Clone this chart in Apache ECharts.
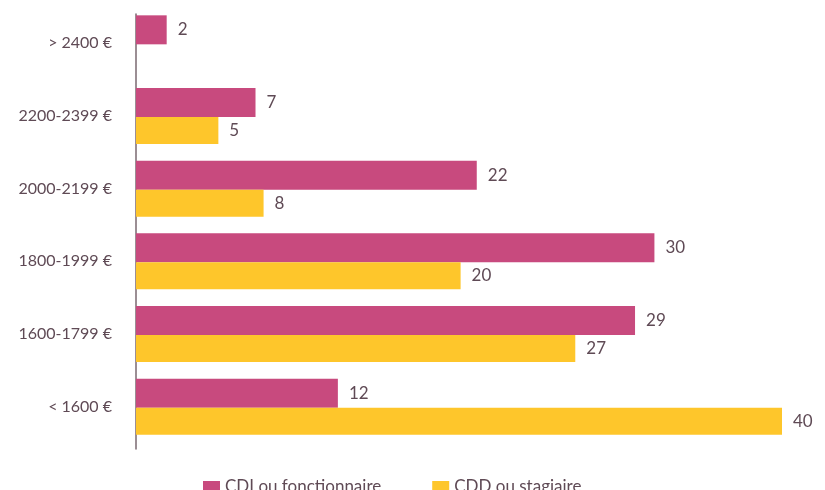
<!DOCTYPE html>
<html>
<head>
<meta charset="utf-8">
<script src="https://cdn.jsdelivr.net/npm/echarts@6/dist/echarts.min.js"></script>
<style>
  html, body { margin: 0; padding: 0; background: #fff; }
  #chart { width: 825px; height: 490px; }
</style>
</head>
<body>
<div id="chart"></div>
<script>
// categories top to bottom
const categories = ['> 2400 €', '2200-2399 €', '2000-2199 €', '1800-1999 €', '1600-1799 €', '< 1600 €']
// bar lengths as drawn in the picture
const cdi = [1.9, 7.4, 21.1, 32.1, 30.9, 12.5]
const cdd = [null, 5.1, 7.9, 20.1, 27.2, 40]
// values printed next to the bars
const cdiLabels = [2, 7, 22, 30, 29, 12]
const cddLabels = [null, 5, 8, 20, 27, 40]

const textColor = '#5f4a55'
const font = 'Lato'
const chart = echarts.init(document.getElementById('chart'))
chart.setOption({
  animation: false,
  textStyle: { fontFamily: font },
  grid: [
    { left: 136, top: 7, bottom: 47, right: 43 },
    { left: 136, top: 14, bottom: 41, right: 43 }
  ],
  legend: {
    top: 473,
    left: 198,
    itemWidth: 17,
    itemHeight: 11,
    itemGap: 51,
    icon: 'rect',
    textStyle: { color: textColor, fontSize: 17, fontFamily: font },
    data: ['CDI ou fonctionnaire', 'CDD ou stagiaire']
  },
  xAxis: [
    { type: 'value', min: 0, max: 40, show: false, gridIndex: 0 },
    { type: 'value', min: 0, max: 40, show: false, gridIndex: 1 }
  ],
  yAxis: [
    {
      type: 'category',
      gridIndex: 0,
      inverse: true,
      data: categories,
      axisLine: { show: false },
      axisTick: { show: false },
      axisLabel: { color: textColor, fontSize: 16, fontFamily: font, margin: 24 }
    },
    {
      type: 'category',
      gridIndex: 1,
      data: categories,
      axisLine: { lineStyle: { color: '#7a6870', width: 1.5 } },
      axisTick: { show: false },
      axisLabel: { show: false }
    }
  ],
  series: [
    {
      name: 'CDI ou fonctionnaire',
      type: 'bar',
      data: cdi,
      barWidth: 29,
      barGap: 0,
      itemStyle: { color: '#c84a7e' },
      label: {
        show: true, position: 'right', distance: 11, color: textColor, fontSize: 17, fontFamily: font,
        formatter: p => cdiLabels[p.dataIndex]
      }
    },
    {
      name: 'CDD ou stagiaire',
      type: 'bar',
      data: cdd,
      barWidth: 27,
      itemStyle: { color: '#fec62b' },
      label: {
        show: true, position: 'right', distance: 11, color: textColor, fontSize: 17, fontFamily: font,
        formatter: p => cddLabels[p.dataIndex]
      }
    }
  ]
})
</script>
</body>
</html>
